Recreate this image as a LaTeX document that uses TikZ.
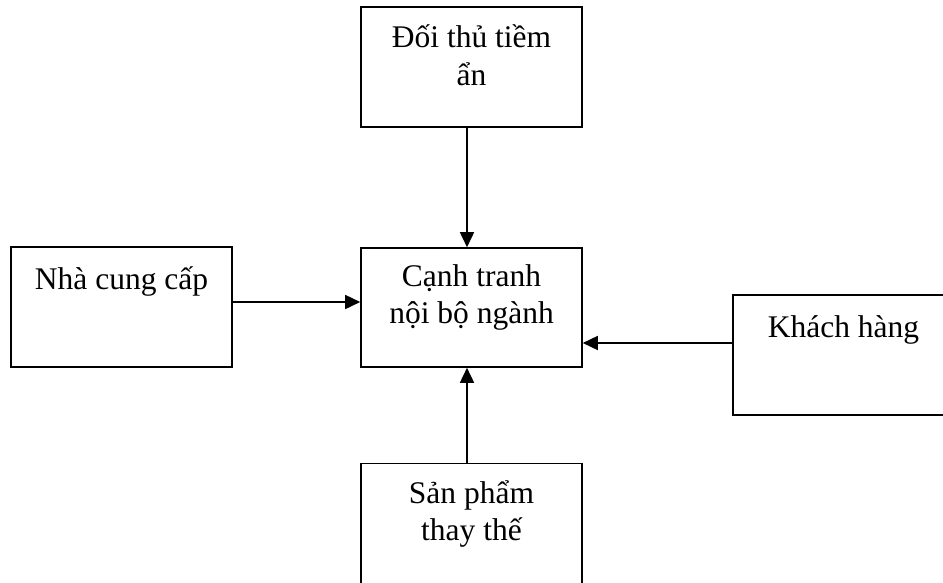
\documentclass[tikz,border=0pt]{standalone}
\usepackage{fontspec}
\setmainfont{Liberation Serif}
\usetikzlibrary{arrows.meta}
\begin{document}
\begin{tikzpicture}[x=1pt,y=-1pt,
  box/.style={draw, line width=1.6pt, rectangle, minimum width=221pt, minimum height=120pt, inner sep=0pt},
  lbl/.style={anchor=base, inner sep=0pt, font=\fontsize{31.5}{37.5}\selectfont},
  arr/.style={line width=1.6pt, -{Triangle[length=15pt,width=14pt]}}]
\useasboundingbox (0,0) rectangle (943,582);
\clip (0,0) rectangle (943,582);
\node[box] (top) at (471.5,67) {};
\node[box, minimum height=119pt] (mid) at (471.5,307.5) {};
\node[box] (lft) at (121.5,307) {};
\node[box] (rgt) at (843.5,355) {};
\node[box] (bot) at (471.5,523.5) {};
\node[lbl] (tt) at (471.5,47.7) {\begin{tabular}[t]{@{}c@{}}Đối thủ tiềm\\ ẩn\end{tabular}};
\node[lbl] (mt) at (471.5,286) {\begin{tabular}[t]{@{}c@{}}Cạnh tranh\\ nội bộ ngành\end{tabular}};
\node[lbl] (lt) at (121.5,289.3) {Nhà cung cấp};
\node[lbl] (rt) at (843.5,337.3) {Khách hàng};
\node[lbl] (bt) at (471.5,503) {\begin{tabular}[t]{@{}c@{}}Sản phẩm\\ thay thế\end{tabular}};
\coordinate (a1) at ([xshift=-4.5pt]top.south);
\draw[arr] (a1) -- (a1 |- mid.north);
\coordinate (a2) at ([yshift=5pt]lft.east);
\draw[arr] (a2) -- (a2 -| mid.west);
\coordinate (a3) at ([yshift=12pt]rgt.west);
\draw[arr] (a3) -- (a3 -| mid.east);
\coordinate (a4) at ([xshift=-4.5pt]bot.north);
\draw[arr] (a4) -- (a4 |- mid.south);
\end{tikzpicture}
\end{document}
